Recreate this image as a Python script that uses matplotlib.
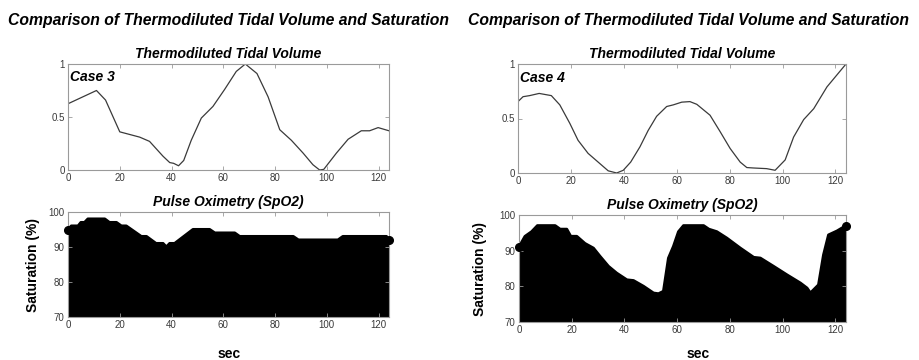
import numpy as np
import matplotlib
matplotlib.use("Agg")
import matplotlib.pyplot as plt

plt.rcParams["font.family"] = ["Liberation Sans", "DejaVu Sans"]

# Case 3 - thermodiluted tidal volume (normalised)
case3_tv_t = [0, 11, 14.5, 20, 27.7, 31.5, 36.7, 39.3, 40.8, 42.7, 44.7, 47.6, 51.5, 56,
              60.5, 65, 68.5, 73, 77.3, 81.8, 86.3, 90.8, 94.6, 97.2, 98.8, 103.7, 108.2,
              113.3, 116.5, 119.8, 124]
case3_tv = [0.625, 0.75, 0.66, 0.36, 0.31, 0.27, 0.13, 0.07, 0.063, 0.04, 0.09, 0.28, 0.49, 0.6,
            0.76, 0.93, 1.0, 0.91, 0.69, 0.38, 0.28, 0.16, 0.05, 0.0, 0.006, 0.16, 0.29,
            0.37, 0.37, 0.4, 0.37]

# Case 3 - SpO2
case3_spo2_t = [0, 1.3, 3.9, 5, 6.4, 7.7, 14.2, 16, 18.7, 20.6, 22.5, 28.3, 30.3, 34, 36.7,
                38, 39.3, 41.2, 48.3, 54.7, 56.7, 64.4, 66.3, 87, 89, 104.3, 106.2, 123, 124]
case3_spo2 = [95, 96, 96, 97, 97, 98, 98, 97, 97, 96, 96, 93, 93, 91, 91,
              90, 91, 91, 95, 95, 94, 94, 93, 93, 92, 92, 93, 93, 92]

# Case 4 - thermodiluted tidal volume (normalised)
case4_tv_t = [0, 1.9, 4.4, 8, 12.6, 15.8, 19.6, 22.7, 26.5, 30.3, 34.1, 37.3, 39.8, 42.6,
              46.1, 49.2, 52.4, 56.2, 58.7, 61.9, 65, 67.6, 72.6, 76.4, 80.2, 84, 86.5, 89,
              94, 97.2, 101, 104.2, 108, 111.8, 116.8, 124]
case4_tv = [0.655, 0.70, 0.71, 0.73, 0.71, 0.625, 0.455, 0.30, 0.18, 0.10, 0.02, 0.0, 0.025, 0.10,
            0.24, 0.39, 0.52, 0.61, 0.625, 0.65, 0.655, 0.63, 0.53, 0.38, 0.225, 0.10, 0.05, 0.046,
            0.04, 0.025, 0.12, 0.33, 0.49, 0.59, 0.79, 1.0]

# Case 4 - SpO2
case4_spo2_t = [0, 2.3, 4.8, 7, 13.7, 15.6, 18.1, 19.6, 21.9, 25, 28.2, 30.7, 33.9, 37, 40.9,
                43.4, 47.2, 51, 52.9, 54.8, 56.7, 58.6, 60.5, 62.4, 70, 72, 75, 78.8, 83.9,
                89, 91.5, 96.5, 101.6, 106.7, 109.2, 110.5, 113.6, 115.5, 117.4, 120.6, 124]
case4_spo2 = [91, 94, 95.3, 97, 97, 96, 96, 94, 94, 92, 90.7, 88.4, 85.6, 83.7, 81.8,
              81.6, 80, 78.1, 77.9, 78.6, 87.9, 91.2, 95.3, 97, 97, 96, 95.3, 93.5, 90.7,
              88.1, 87.9, 85.6, 83.2, 80.9, 79.5, 78.1, 80.4, 88.8, 94.4, 95.5, 97]

xticks = [0, 20, 40, 60, 80, 100, 120]
suptitle = "Comparison of Thermodiluted Tidal Volume and Saturation"

W, H = 919, 360
fig = plt.figure(figsize=(W / 100, H / 100), dpi=100)


def box(px):
    # pixel box (x0, y0, x1, y1) from top-left -> figure fraction
    x0, y0, x1, y1 = px
    return [x0 / W, 1 - y1 / H, (x1 - x0) / W, (y1 - y0) / H]


def style(ax):
    for s in ax.spines.values():
        s.set_color("#9a9a9a")
        s.set_linewidth(0.8)
    ax.tick_params(direction="in", length=3, width=0.6, color="#9a9a9a",
                   labelsize=7, labelcolor="#3a3a3a", top=True, right=True, pad=2.5)
    ax.set_xticks(xticks)
    ax.set_xlim(0, 124)


panels = [
    ((68, 64, 389, 170), (68, 212, 389, 317), "Case 3",
     case3_tv_t, case3_tv, case3_spo2_t, case3_spo2, 228, 33, 229),
    ((518, 64, 846, 173), (519, 215, 846, 322), "Case 4",
     case4_tv_t, case4_tv, case4_spo2_t, case4_spo2, 688, 480, 698),
]

for top_px, bot_px, label, tv_t, tv, sp_t, sp, cx, ylab_x, sec_x in panels:
    ax1 = fig.add_axes(box(top_px))
    ax1.plot(tv_t, tv, color="#3a3a3a", linewidth=0.9)
    ax1.set_ylim(0, 1)
    ax1.set_yticks([0, 0.5, 1])
    ax1.set_yticklabels(["0", "0.5", "1"])
    style(ax1)
    ax1.set_title("Thermodiluted Tidal Volume", fontsize=10, fontweight="bold",
                  style="italic", pad=4)
    ax1.text(0.005, 0.94, label, transform=ax1.transAxes, fontsize=10,
             fontweight="bold", style="italic", va="top", ha="left")

    ax2 = fig.add_axes(box(bot_px))
    ax2.fill_between(sp_t, 70, sp, color="black", linewidth=0)
    ax2.plot(sp_t, sp, color="black", linewidth=2.2)
    ax2.plot([sp_t[0], sp_t[-1]], [sp[0], sp[-1]], "o", color="black",
             markersize=5.5, clip_on=False, zorder=5)
    ax2.set_ylim(70, 100)
    ax2.set_yticks([70, 80, 90, 100])
    style(ax2)
    ax2.set_title("Pulse Oximetry (SpO2)", fontsize=10, fontweight="bold",
                  style="italic", pad=4)
    fig.text(ylab_x / W, 1 - (bot_px[1] + bot_px[3]) / 2 / H, "Saturation (%)",
             fontsize=10, fontweight="bold", rotation=90, ha="center", va="center")
    fig.text(sec_x / W, 1 - 354 / H, "sec", fontsize=10, fontweight="bold",
             ha="center", va="center")

    fig.text(cx / W, 1 - 20 / H, suptitle, fontsize=11.3, fontweight="bold",
             style="italic", ha="center", va="center")

fig.savefig("out.png", dpi=100)
